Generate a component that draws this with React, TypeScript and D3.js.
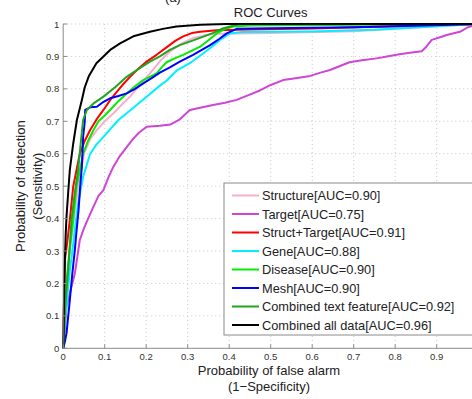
import React from 'react';
import { scaleLinear, line, range } from 'd3';

// ROC points [false alarm, detection]
const structure = [[0,0],[0.003,0.1],[0.008,0.2],[0.016,0.3],[0.026,0.4],[0.036,0.5],[0.05,0.6],[0.065,0.645],[0.081,0.673],[0.1,0.7],[0.121,0.725],[0.14,0.75],[0.161,0.776],[0.185,0.812],[0.209,0.848],[0.233,0.885],[0.257,0.915],[0.285,0.94],[0.313,0.956],[0.34,0.965],[0.37,0.97],[0.5,0.972],[0.7,0.978],[1,1]];
const target = [[0,0],[0.004,0.06],[0.008,0.13],[0.014,0.16],[0.02,0.19],[0.028,0.23],[0.035,0.29],[0.04,0.334],[0.05,0.37],[0.06,0.4],[0.073,0.437],[0.085,0.47],[0.097,0.488],[0.11,0.53],[0.121,0.56],[0.135,0.59],[0.153,0.62],[0.168,0.645],[0.181,0.663],[0.201,0.683],[0.233,0.686],[0.258,0.69],[0.28,0.705],[0.305,0.735],[0.33,0.742],[0.361,0.75],[0.39,0.757],[0.418,0.766],[0.445,0.78],[0.474,0.795],[0.5,0.812],[0.53,0.827],[0.56,0.833],[0.595,0.84],[0.62,0.85],[0.643,0.858],[0.67,0.872],[0.69,0.882],[0.72,0.888],[0.755,0.894],[0.78,0.9],[0.81,0.907],[0.84,0.912],[0.864,0.916],[0.875,0.93],[0.888,0.951],[0.91,0.96],[0.924,0.966],[0.956,0.976],[0.975,0.99],[1,1]];
const structTarget = [[0,0],[0.001,0.1],[0.003,0.2],[0.004,0.272],[0.01,0.33],[0.016,0.396],[0.024,0.498],[0.04,0.6],[0.052,0.64],[0.065,0.673],[0.08,0.705],[0.097,0.735],[0.113,0.765],[0.129,0.791],[0.145,0.815],[0.161,0.837],[0.181,0.862],[0.201,0.884],[0.225,0.905],[0.249,0.928],[0.27,0.948],[0.289,0.962],[0.31,0.972],[0.33,0.976],[0.37,0.981],[0.45,0.983],[0.6,0.986],[1,1]];
const gene = [[0,0],[0.004,0.08],[0.01,0.16],[0.016,0.24],[0.022,0.3],[0.028,0.365],[0.036,0.447],[0.048,0.529],[0.065,0.6],[0.08,0.628],[0.097,0.652],[0.115,0.678],[0.133,0.704],[0.153,0.725],[0.177,0.75],[0.201,0.776],[0.233,0.81],[0.249,0.825],[0.273,0.856],[0.305,0.879],[0.338,0.91],[0.358,0.93],[0.378,0.951],[0.402,0.971],[0.43,0.975],[0.6,0.977],[0.75,0.982],[1,1]];
const disease = [[0,0],[0.003,0.1],[0.008,0.2],[0.015,0.3],[0.024,0.396],[0.032,0.498],[0.048,0.6],[0.06,0.64],[0.073,0.673],[0.085,0.7],[0.1,0.718],[0.113,0.735],[0.133,0.762],[0.153,0.786],[0.173,0.808],[0.193,0.827],[0.21,0.838],[0.225,0.848],[0.24,0.87],[0.249,0.882],[0.27,0.895],[0.289,0.905],[0.31,0.918],[0.33,0.93],[0.35,0.95],[0.37,0.971],[0.39,0.985],[0.41,0.992],[0.45,0.995],[1,1]];
const mesh = [[0,0],[0.004,0.02],[0.008,0.046],[0.016,0.149],[0.022,0.23],[0.028,0.303],[0.032,0.36],[0.037,0.426],[0.041,0.5],[0.045,0.56],[0.048,0.652],[0.052,0.7],[0.053,0.735],[0.065,0.743],[0.081,0.745],[0.095,0.758],[0.113,0.771],[0.133,0.778],[0.153,0.786],[0.173,0.8],[0.193,0.817],[0.213,0.833],[0.233,0.85],[0.257,0.866],[0.281,0.884],[0.313,0.905],[0.334,0.92],[0.354,0.935],[0.375,0.953],[0.394,0.971],[0.418,0.985],[0.5,0.987],[0.7,0.99],[1,1]];
const combinedText = [[0,0],[0.002,0.05],[0.006,0.15],[0.012,0.241],[0.02,0.396],[0.028,0.48],[0.036,0.55],[0.042,0.63],[0.048,0.704],[0.057,0.735],[0.075,0.757],[0.097,0.776],[0.125,0.805],[0.153,0.837],[0.18,0.86],[0.209,0.884],[0.233,0.9],[0.257,0.92],[0.281,0.935],[0.31,0.948],[0.338,0.961],[0.36,0.972],[0.386,0.987],[0.426,1],[1,1]];
const combinedAll = [[0,0],[0.001,0.05],[0.002,0.15],[0.004,0.27],[0.006,0.35],[0.008,0.406],[0.012,0.48],[0.016,0.55],[0.024,0.63],[0.033,0.704],[0.045,0.766],[0.052,0.805],[0.062,0.84],[0.08,0.879],[0.097,0.9],[0.115,0.922],[0.137,0.94],[0.169,0.962],[0.209,0.976],[0.24,0.985],[0.273,0.992],[0.33,0.998],[0.394,1],[1,1]];

const seriesNames = ['Structure[AUC=0.90]', 'Target[AUC=0.75]', 'Struct+Target[AUC=0.91]', 'Gene[AUC=0.88]', 'Disease[AUC=0.90]', 'Mesh[AUC=0.90]', 'Combined text feature[AUC=0.92]', 'Combined all data[AUC=0.96]'];
const seriesData = [structure, target, structTarget, gene, disease, mesh, combinedText, combinedAll];
const seriesColors = ['#f7aecb', '#cf45d6', '#ff0000', '#00f0ff', '#00ee00', '#0000ff', '#1fa51f', '#000000'];

const xTicks = [0, 0.1, 0.2, 0.3, 0.4, 0.5, 0.6, 0.7, 0.8, 0.9];
const yTicks = [0, 0.1, 0.2, 0.3, 0.4, 0.5, 0.6, 0.7, 0.8, 0.9, 1];

const font = 'Liberation Sans, Arial, sans-serif';

export default function App() {
  const width = 472, height = 399;
  const left = 63.2, right = 478.2, top = 24, bottom = 348.3;

  const x = scaleLinear().domain([0, 1]).range([left, right]);
  const y = scaleLinear().domain([0, 1]).range([bottom, top]);
  const path = line<number[]>().x(d => x(d[0])).y(d => y(d[1]));

  // legend
  const lgLeft = 224, lgTop = 183, lgBottom = 335;
  const lgRow0 = 195.5, lgStep = 18.5;

  return (
    <svg width={width} height={height} style={{ position: 'absolute', left: 0, top: 0, background: '#fff' }}>
      <text x={173} y={2} fontFamily={font} fontSize={13} textAnchor="middle" fill="#222">(a)</text>
      <text x={(left + right) / 2} y={17} fontFamily={font} fontSize={13} textAnchor="middle" fill="#222">ROC Curves</text>

      {/* grid */}
      <g stroke="#c8c8c8" strokeWidth={1} strokeDasharray="1,3">
        {xTicks.filter(t => t > 0).map(t => (
          <line key={'gx' + t} x1={x(t)} x2={x(t)} y1={top} y2={bottom} />
        ))}
        {yTicks.filter(t => t > 0).map(t => (
          <line key={'gy' + t} x1={left} x2={right} y1={y(t)} y2={y(t)} />
        ))}
      </g>

      {/* curves */}
      <g fill="none" strokeWidth={2} strokeLinejoin="round">
        {seriesData.map((d, i) => (
          <path key={'s' + i} d={path(d) || ''} stroke={seriesColors[i]} />
        ))}
      </g>

      {/* axes */}
      <g stroke="#8a8a8a" strokeWidth={1}>
        <line x1={left} x2={left} y1={top} y2={bottom} />
        <line x1={left} x2={right} y1={bottom} y2={bottom} />
        {xTicks.map(t => (
          <line key={'tx' + t} x1={x(t)} x2={x(t)} y1={bottom} y2={bottom - 4} />
        ))}
        {yTicks.map(t => (
          <line key={'ty' + t} x1={left} x2={left + 4} y1={y(t)} y2={y(t)} />
        ))}
      </g>
      <g fontFamily={font} fontSize={9.5} fill="#333">
        {xTicks.map(t => (
          <text key={'lx' + t} x={x(t)} y={bottom + 12} textAnchor="middle">{String(t)}</text>
        ))}
        {yTicks.map(t => (
          <text key={'ly' + t} x={left - 4} y={y(t) + 3.5} textAnchor="end">{String(t)}</text>
        ))}
      </g>

      {/* axis labels */}
      <g fontFamily={font} fontSize={13} fill="#222" textAnchor="middle">
        <text x={269} y={375}>Probability of false alarm</text>
        <text x={269} y={391}>(1−Specificity)</text>
        <text transform={`translate(25,${(top + bottom) / 2}) rotate(-90)`}>Probability of detection</text>
        <text transform={`translate(42,${(top + bottom) / 2}) rotate(-90)`}>(Sensitivity)</text>
      </g>

      {/* legend */}
      <rect x={lgLeft} y={lgTop} width={260} height={lgBottom - lgTop} fill="#fff" stroke="#8a8a8a" strokeWidth={1} />
      {range(seriesNames.length).map(i => {
        const ry = lgRow0 + i * lgStep;
        return (
          <g key={'lg' + i}>
            <line x1={232} x2={259} y1={ry} y2={ry} stroke={seriesColors[i]} strokeWidth={2} />
            <text x={262} y={ry + 4.5} fontFamily={font} fontSize={12.8} fill="#222">{seriesNames[i]}</text>
          </g>
        );
      })}
    </svg>
  );
}
